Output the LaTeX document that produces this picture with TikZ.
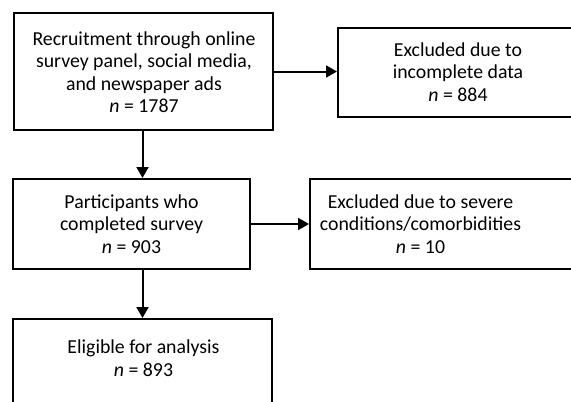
\documentclass[tikz,border=0pt]{standalone}
\usepackage{fontspec}
\setmainfont{Carlito}
\usetikzlibrary{arrows.meta,calc}
\begin{document}
\begin{tikzpicture}[x=1pt,y=-1pt,
  box/.style={draw=black,line width=2pt,inner sep=0pt,minimum width=#1},
  txt/.style={align=center,inner sep=0pt,font=\fontsize{19.8}{22.5}\selectfont},
  arr/.style={line width=2pt,-{Triangle[length=11pt,width=12pt]}}]
\useasboundingbox (0,0) rectangle (571,402);
\clip (0,0) rectangle (571,402);
% boxes (corners in pixel coordinates)
\node[box=259pt,minimum height=117pt] (b1) at (143.5,71.5) {};
\node[box=250pt,minimum height=89pt] (b2) at (463,72.5) {};
\node[box=237pt,minimum height=90pt] (b3) at (131.5,224) {};
\node[box=280pt,minimum height=90pt] (b4) at (450,224) {};
\node[box=259pt,minimum height=90pt] (b5) at (142.5,364) {};
% texts
\node[txt] (t1) at (144,72) {Recruitment through online\\survey panel, social media,\\and newspaper ads\\\textit{n} = 1787};
\node[txt] (t2) at (458,72) {Excluded due to\\incomplete data\\\textit{n} = 884};
\node[txt] (t3) at (131.5,224) {Participants who\\completed survey\\\textit{n} = 903};
\node[txt] (t4) at (420.5,224) {Excluded due to severe\\conditions/comorbidities\\\textit{n} = 10};
\node[txt] (t5) at (143.5,358) {Eligible for analysis\\\textit{n} = 893};
% connectors
\draw[arr] (b1.east) -- (b1.east -| b2.west);
\draw[arr] (b1.south -| b5.north) -- (b5.north |- b3.north);
\draw[arr] (b3.east) -- (b3.east -| b4.west);
\draw[arr] (b5.north |- b3.south) -- (b5.north);
\end{tikzpicture}
\end{document}
